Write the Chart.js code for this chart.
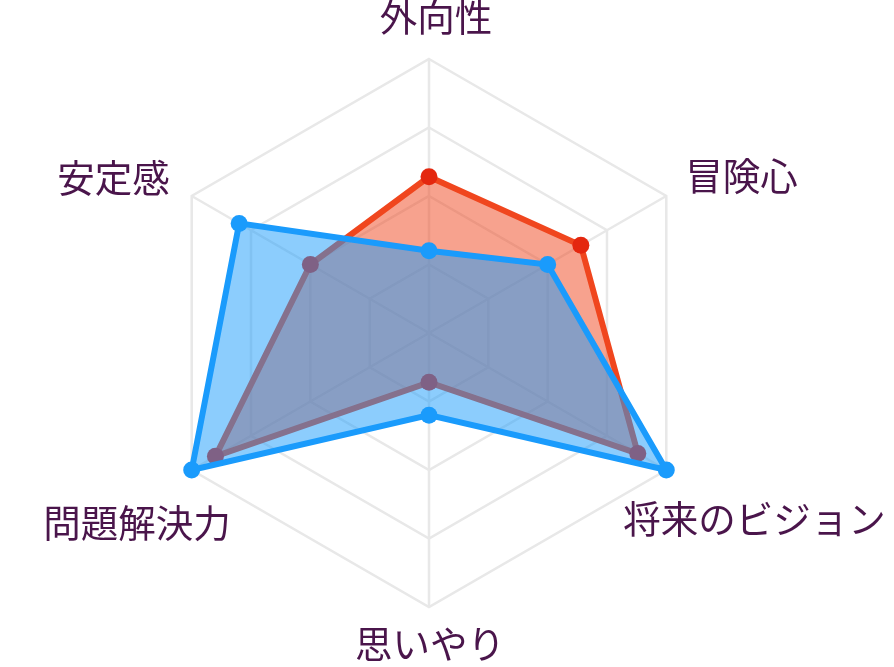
<!DOCTYPE html>
<html lang="ja">
<head>
<meta charset="utf-8">
<title>レーダーチャート</title>
<script src="https://cdn.jsdelivr.net/npm/chart.js@4/dist/chart.umd.min.js"></script>
<style>
	html, body { margin: 0; padding: 0; background: #fff; }
	#wrap { width: 894px; height: 667px; position: relative; }
</style>
</head>
<body>
<div id="wrap"><canvas id="radar"></canvas></div>
<script>
// axis categories, clockwise from the top
const categories = ["外向性", "冒険心", "将来のビジョン", "思いやり", "問題解決力", "安定感"];

// values on a 0-100 scale
const blueValues = [30, 50, 100, 30, 100, 80];
const redValues = [57, 64, 88, 18, 90, 50];

// ring steps (no tick labels shown)
const tickValues = [0, 25, 50, 75, 100];

// where each axis label sits relative to its outer vertex: [dx, dy, align]
const labelPlacement = [
	[7, -42, "center"],
	[19, -20, "left"],
	[-43, 49, "left"],
	[1, 37, "center"],
	[39, 53, "right"],
	[-22, -18, "right"],
];

const labelColor = "#4a154b";

const axisLabels = {
	id: "axisLabels",
	afterDraw(chart) {
		const scale = chart.scales.r;
		const ctx = chart.ctx;
		ctx.save();
		ctx.font = '37.5px "Noto Sans CJK JP"';
		ctx.fillStyle = labelColor;
		ctx.textBaseline = "middle";
		categories.forEach((label, i) => {
			const p = scale.getPointPosition(i, scale.drawingArea);
			const [dx, dy, align] = labelPlacement[i];
			ctx.textAlign = align;
			ctx.fillText(label, p.x + dx, p.y + dy);
		});
		ctx.restore();
	},
};

const ctx = document.getElementById("radar");

new Chart(ctx, {
	type: "radar",
	data: {
		labels: categories,
		datasets: [
			{
				label: "B",
				data: blueValues,
				borderColor: "#1a9bfc",
				backgroundColor: "rgba(26, 155, 252, 0.5)",
				borderWidth: 6,
				pointRadius: 8.5,
				pointBorderWidth: 0,
				pointBackgroundColor: "#1a9bfc",
				fill: true,
			},
			{
				label: "A",
				data: redValues,
				borderColor: "#f0461e",
				backgroundColor: "rgba(240, 70, 30, 0.5)",
				borderWidth: 6,
				pointRadius: 8.5,
				pointBorderWidth: 0,
				pointBackgroundColor: "#e4270f",
				fill: true,
			},
		],
	},
	options: {
		responsive: true,
		maintainAspectRatio: false,
		animation: false,
		devicePixelRatio: 1,
		layout: {
			padding: { left: 155, right: 190, top: 59, bottom: 60 },
		},
		plugins: {
			legend: { display: false },
			tooltip: { enabled: false },
		},
		scales: {
			r: {
				min: tickValues[0],
				max: tickValues[tickValues.length - 1],
				ticks: { stepSize: tickValues[1] - tickValues[0], display: false },
				grid: { color: "#e8e8e8", lineWidth: 2.5 },
				angleLines: { color: "#e8e8e8", lineWidth: 2.5 },
				pointLabels: { display: false },
			},
		},
	},
	plugins: [axisLabels],
});
</script>
</body>
</html>
